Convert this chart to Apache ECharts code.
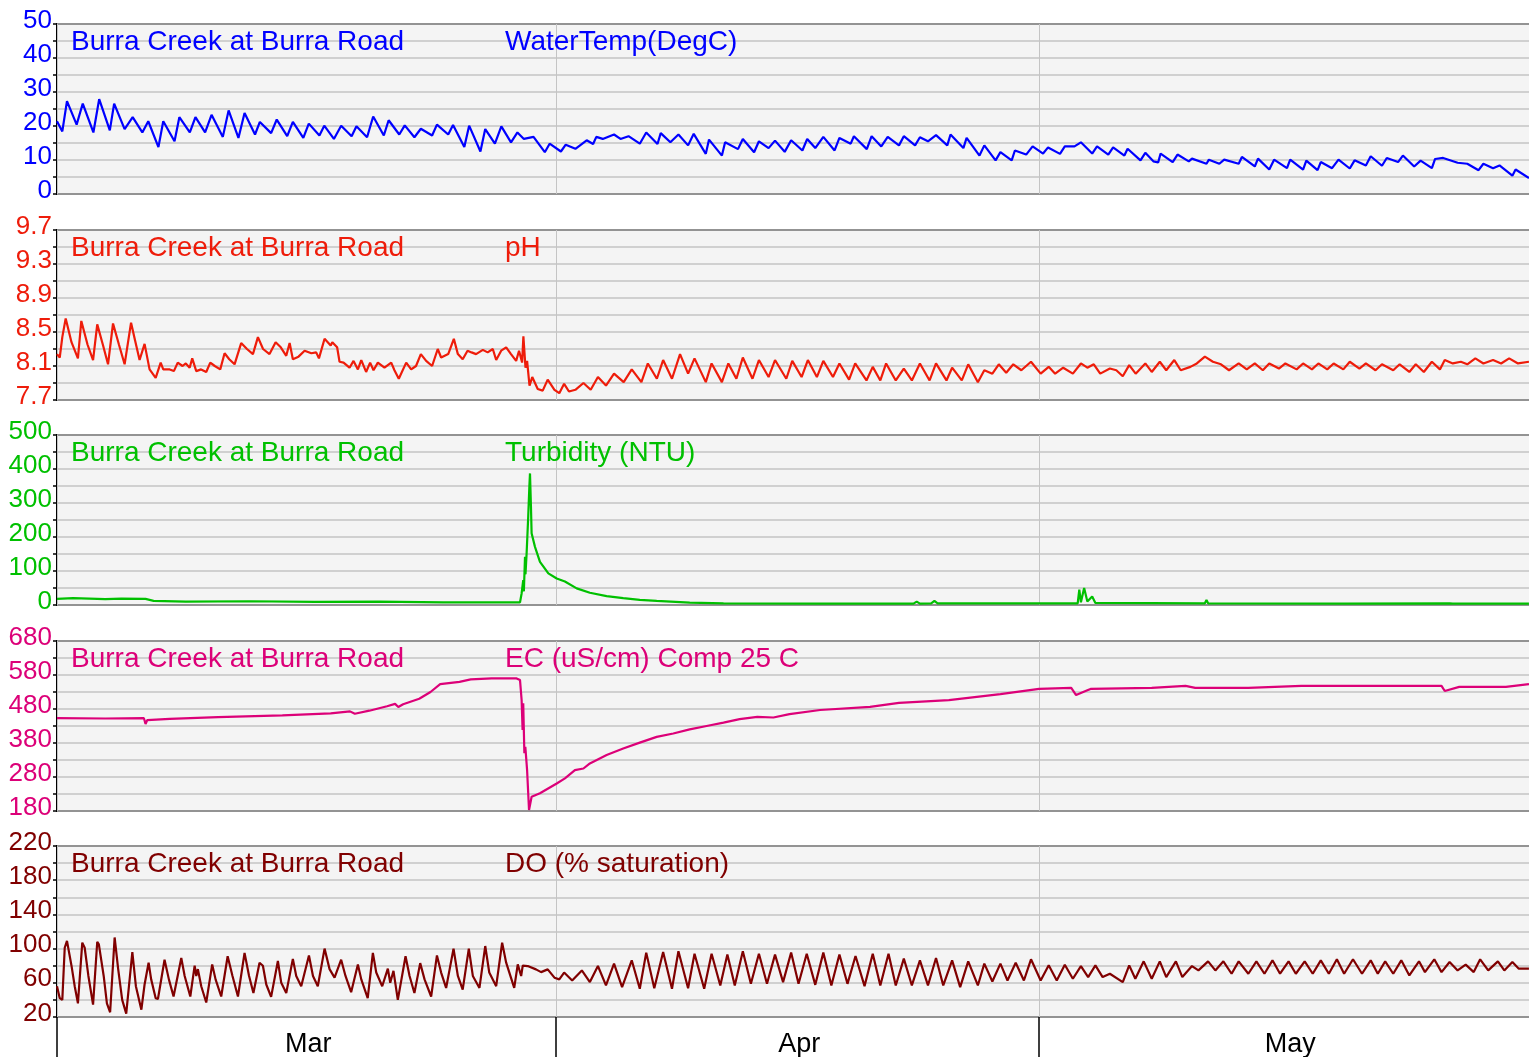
<!DOCTYPE html>
<html>
<head>
<meta charset="utf-8">
<title>Burra Creek at Burra Road</title>
<script src="https://cdn.jsdelivr.net/npm/echarts@6/dist/echarts.min.js"></script>
<style>
  html, body { margin: 0; padding: 0; background: #fff; }
  #chart { width: 1529px; height: 1057px; }
</style>
</head>
<body>
<div id="chart"></div>
<script>
// Time is measured in days from 1 March 00:00.
// The plot area runs a few pixels past the right edge of the canvas, so its
// right-hand border stays out of view; dayEnd is the time at that edge.
const siteName = 'Burra Creek at Burra Road';
const plotOverhang = 8;
const dayEnd = 91.93;
const monthStarts = [0, 31, 61];
const monthMids = [15.6, 46.1, 76.6];
const monthNames = ['Mar', 'Apr', 'May'];

// Water temperature (°C)
const waterTemp = [[0,21.4],[0.33,18.4],[0.62,27.3],[1.22,20.4],[1.6,26.6],[2.26,18.1],[2.62,27.9],[3.28,18.7],[3.55,26.6],[4.2,19.1],[4.7,22.6],[5.3,18.1],[5.67,21.4],[6.3,13.8],[6.6,21.4],[7.3,15.5],[7.6,22.6],[8.25,18.1],[8.6,22.6],[9.2,18.1],[9.6,23.3],[10.3,16.8],[10.66,24.6],[11.27,16.5],[11.65,23.8],[12.3,17.5],[12.6,21.2],[13.3,17.9],[13.65,21.9],[14.3,17.0],[14.65,21.2],[15.3,16.5],[15.64,20.7],[16.3,17.2],[16.6,20.1],[17.2,16.2],[17.65,20.1],[18.3,17.0],[18.6,19.9],[19.26,16.7],[19.64,22.8],[20.3,17.2],[20.6,21.7],[21.26,17.5],[21.6,20.2],[22.2,16.7],[22.6,19.2],[23.3,17.2],[23.6,20.4],[24.3,17.5],[24.6,20.3],[25.3,13.8],[25.6,20.1],[26.3,12.5],[26.6,19.1],[27.2,14.8],[27.6,19.9],[28.2,15.2],[28.6,18.1],[29.0,16.2],[29.6,16.8],[30.3,12.3],[30.6,14.8],[31.3,12.5],[31.6,14.5],[32.2,13.3],[32.9,15.8],[33.3,14.7],[33.5,16.8],[33.9,16.2],[34.6,17.5],[35.0,16.2],[35.5,17.0],[36.2,14.8],[36.6,18.1],[37.3,14.7],[37.5,17.9],[38.1,15.2],[38.6,17.5],[39.2,14.3],[39.55,17.7],[40.3,11.8],[40.5,16.0],[41.3,11.3],[41.5,15.2],[42.3,13.2],[42.6,16.2],[43.3,12.3],[43.6,15.5],[44.2,13.5],[44.6,15.7],[45.2,12.4],[45.6,15.8],[46.3,12.8],[46.6,16.2],[47.1,13.5],[47.6,16.8],[48.3,12.8],[48.6,16.5],[49.3,14.8],[49.5,17.0],[50.3,13.2],[50.6,17.0],[51.2,14.0],[51.6,16.8],[52.3,14.3],[52.6,17.0],[53.3,14.3],[53.6,16.7],[54.1,15.5],[54.6,17.3],[55.3,14.3],[55.5,17.5],[56.3,13.5],[56.5,16.5],[57.3,11.3],[57.6,14.3],[58.3,9.9],[58.6,12.3],[59.3,9.9],[59.5,12.8],[60.2,11.6],[60.6,14.0],[61.25,11.9],[61.56,13.7],[62.3,11.8],[62.6,14.0],[63.2,14.0],[63.6,15.2],[64.3,11.9],[64.6,14.0],[65.3,11.6],[65.6,13.7],[66.3,11.3],[66.5,13.3],[67.3,9.9],[67.6,12.1],[68.1,9.6],[68.4,9.3],[68.55,11.9],[69.3,9.4],[69.6,11.6],[70.3,9.6],[70.5,10.4],[71.4,8.9],[71.55,10.1],[72.2,8.9],[72.5,10.1],[73.4,8.9],[73.6,10.9],[74.4,8.1],[74.6,10.4],[75.3,7.2],[75.6,10.1],[76.4,7.6],[76.6,10.1],[77.4,7.2],[77.6,9.8],[78.3,7.0],[78.5,9.4],[79.2,7.6],[79.6,10.1],[80.3,7.5],[80.6,9.9],[81.3,8.4],[81.6,11.1],[82.3,8.3],[82.6,10.6],[83.3,9.4],[83.6,11.3],[84.3,8.1],[84.7,9.8],[85.4,7.6],[85.6,10.3],[86.1,10.6],[87.0,9.2],[87.6,8.9],[88.3,7.0],[88.6,8.9],[89.2,7.6],[89.6,8.4],[90.4,5.4],[90.6,7.2],[91.43,4.7]];

// pH
const phValues = [[0,8.24],[0.17,8.20],[0.33,8.44],[0.54,8.66],[0.9,8.38],[1.3,8.19],[1.51,8.63],[1.9,8.35],[2.24,8.17],[2.5,8.59],[2.85,8.35],[3.17,8.12],[3.48,8.60],[3.85,8.35],[4.2,8.12],[4.6,8.61],[4.85,8.40],[5.13,8.17],[5.44,8.36],[5.75,8.06],[6.13,7.96],[6.44,8.14],[6.6,8.06],[7.0,8.06],[7.26,8.04],[7.5,8.14],[7.8,8.10],[8.0,8.13],[8.24,8.08],[8.4,8.19],[8.65,8.04],[8.95,8.06],[9.27,8.03],[9.52,8.14],[9.8,8.10],[10.14,8.06],[10.41,8.25],[10.7,8.18],[11.03,8.12],[11.44,8.37],[11.8,8.30],[12.17,8.24],[12.48,8.44],[12.8,8.30],[13.2,8.24],[13.58,8.38],[13.9,8.32],[14.24,8.22],[14.45,8.37],[14.65,8.18],[15.0,8.21],[15.38,8.28],[15.8,8.25],[16.1,8.26],[16.27,8.19],[16.62,8.42],[17.0,8.34],[17.1,8.38],[17.4,8.32],[17.55,8.15],[17.8,8.14],[18.17,8.08],[18.42,8.16],[18.69,8.06],[18.9,8.17],[19.2,8.03],[19.45,8.14],[19.66,8.05],[19.93,8.14],[20.34,8.08],[20.76,8.14],[20.96,8.05],[21.23,7.95],[21.69,8.14],[22.0,8.06],[22.3,8.10],[22.6,8.24],[22.93,8.16],[23.3,8.10],[23.65,8.30],[23.86,8.20],[24.3,8.24],[24.65,8.42],[24.9,8.24],[25.2,8.18],[25.5,8.28],[25.75,8.26],[26.03,8.24],[26.45,8.29],[26.75,8.26],[27.07,8.30],[27.28,8.17],[27.59,8.28],[27.9,8.32],[28.2,8.24],[28.52,8.16],[28.7,8.28],[28.89,8.14],[28.97,8.45],[29.1,8.08],[29.2,8.16],[29.35,7.87],[29.52,7.97],[29.86,7.83],[30.17,7.81],[30.48,7.94],[30.9,7.82],[31.2,7.78],[31.5,7.89],[31.8,7.80],[32.2,7.82],[32.7,7.90],[33.15,7.82],[33.6,7.97],[34.1,7.87],[34.6,8.01],[35.2,7.91],[35.7,8.06],[36.3,7.91],[36.7,8.13],[37.26,7.95],[37.65,8.17],[38.2,7.95],[38.7,8.24],[39.2,8.01],[39.6,8.19],[40.3,7.91],[40.66,8.13],[41.3,7.91],[41.7,8.13],[42.2,7.95],[42.6,8.20],[43.2,7.95],[43.6,8.17],[44.2,7.97],[44.6,8.17],[45.3,7.95],[45.67,8.16],[46.25,7.97],[46.64,8.17],[47.2,7.97],[47.6,8.16],[48.2,7.97],[48.6,8.13],[49.2,7.94],[49.58,8.13],[50.28,7.93],[50.67,8.09],[51.14,7.93],[51.5,8.13],[52.1,7.93],[52.6,8.07],[53.1,7.93],[53.6,8.13],[54.2,7.93],[54.6,8.13],[55.25,7.93],[55.6,8.08],[56.2,7.93],[56.6,8.12],[57.2,7.91],[57.6,8.05],[58.1,8.01],[58.5,8.12],[58.96,8.02],[59.4,8.12],[59.9,8.05],[60.5,8.15],[61.1,8.01],[61.6,8.09],[62.0,8.01],[62.5,8.08],[63.1,8.01],[63.6,8.13],[64.0,8.08],[64.4,8.12],[64.8,8.01],[65.4,8.07],[65.8,8.05],[66.2,7.98],[66.6,8.11],[67.0,8.01],[67.6,8.13],[68.0,8.03],[68.5,8.15],[68.9,8.05],[69.4,8.17],[69.8,8.05],[70.4,8.09],[70.8,8.13],[71.3,8.21],[71.8,8.15],[72.3,8.12],[72.8,8.05],[73.4,8.13],[73.9,8.06],[74.4,8.13],[74.9,8.05],[75.3,8.13],[75.9,8.07],[76.3,8.13],[77.0,8.06],[77.4,8.13],[77.95,8.06],[78.35,8.13],[78.9,8.06],[79.3,8.13],[79.9,8.06],[80.3,8.15],[80.9,8.07],[81.3,8.13],[81.9,8.05],[82.3,8.12],[83.0,8.05],[83.4,8.12],[84.0,8.03],[84.4,8.12],[84.9,8.03],[85.4,8.15],[85.9,8.06],[86.2,8.17],[86.7,8.13],[87.2,8.15],[87.6,8.12],[88.1,8.19],[88.6,8.13],[89.2,8.17],[89.7,8.13],[90.2,8.19],[90.75,8.13],[91.43,8.15]];

// Turbidity (NTU)
const turbidity = [[0,18],[1,20],[2,19],[3,17],[4,19],[5.5,18],[6,12],[8,10],[12,11],[16,9],[20,10],[24,8],[28.76,8],[28.86,34],[28.96,73],[29.0,40],[29.07,142],[29.1,90],[29.17,152],[29.27,260],[29.34,348],[29.38,387],[29.44,289],[29.48,211],[29.69,171],[30.0,127],[30.52,93],[31.04,78],[31.55,69],[32.28,49],[33.1,36],[34.14,26],[35.17,20],[36.2,15],[37.25,12],[39.3,7],[41.4,5],[47.4,4],[53.2,4],[53.4,10],[53.6,4],[54.3,5],[54.5,12],[54.7,5],[63.4,5],[63.5,45],[63.6,8],[63.8,50],[64.0,10],[64.3,25],[64.5,6],[71.3,5],[71.4,15],[71.5,5],[80,4],[86.5,5],[86.6,9],[86.7,4],[91.43,4]];

// Electrical conductivity (uS/cm, compensated to 25 C)
const conductivity = [[0,453],[3,452],[5.4,453],[5.5,436],[5.6,447],[7,451],[10,456],[14,461],[17,467],[18.2,473],[18.5,466],[19.4,475],[20.5,488],[21.0,495],[21.2,486],[21.5,494],[22.5,510],[23.2,530],[23.8,553],[25.0,560],[25.7,567],[27,570],[28.55,570],[28.76,565],[28.86,506],[28.92,418],[28.96,497],[29.03,350],[29.09,369],[29.2,300],[29.32,183],[29.48,222],[30.0,232],[31.04,261],[31.55,276],[32.17,300],[32.7,305],[33.1,320],[34.14,345],[35.17,364],[36.2,381],[37.25,398],[38.28,408],[39.3,420],[40.35,430],[41.4,440],[42.4,450],[43.5,457],[44.5,455],[45.5,465],[47.4,477],[50.5,486],[52.3,498],[55.4,506],[58.6,524],[61.0,539],[63.0,542],[63.3,521],[64.0,535],[64.2,539],[68.0,542],[70.1,548],[70.7,542],[74,542],[77.3,548],[86.0,548],[86.2,533],[87.1,545],[90.0,545],[91.43,553]];

// Dissolved oxygen (% saturation)
const dissolvedOxygen = [[0,56],[0.17,42],[0.33,40],[0.48,101],[0.62,109],[0.9,80],[1.1,56],[1.3,36],[1.57,107],[1.72,101],[1.95,68],[2.24,34.5],[2.5,108],[2.6,105],[2.7,107],[2.9,68],[3.1,36],[3.3,25.5],[3.58,113],[3.8,76],[4.05,40],[4.3,24],[4.68,96],[4.9,56],[5.24,28.6],[5.44,58],[5.69,83.5],[5.85,64],[6.13,42],[6.27,41],[6.68,87],[6.95,64],[7.24,44],[7.72,89],[7.93,68],[8.28,44],[8.55,80],[8.65,68],[8.75,76],[8.96,56],[9.27,37],[9.64,81.5],[9.85,64],[10.2,44],[10.6,91],[10.9,68],[11.24,44],[11.65,95],[11.93,68],[12.2,48],[12.58,83.5],[12.79,80],[13.0,58],[13.3,43.5],[13.72,85.5],[13.93,60],[14.24,48],[14.65,88],[14.86,68],[15.17,56],[15.65,92],[15.9,68],[16.2,56],[16.62,100],[16.93,76],[17.24,66],[17.65,87],[17.92,68],[18.27,49],[18.69,81.5],[18.9,64],[19.3,42],[19.62,95],[19.83,72],[20.2,56],[20.55,76.5],[20.7,60],[20.9,74],[21.17,40],[21.65,91],[21.9,68],[22.2,48],[22.56,83],[22.83,64],[23.24,44],[23.6,92],[23.86,72],[24.17,54],[24.63,100],[24.9,68],[25.2,52],[25.58,100],[25.83,68],[26.24,54],[26.6,103],[26.85,72],[27.28,56],[27.65,107],[27.9,83.5],[28.4,54],[28.62,81.5],[28.83,68],[28.93,80],[29.24,79.6],[29.75,75.7],[30.07,72.5],[30.48,75.7],[30.9,66],[31.2,64],[31.5,72],[32.0,62.7],[32.6,74.5],[33.1,60.8],[33.6,79.6],[34.1,56.9],[34.6,82.4],[35.1,54.9],[35.7,86.3],[36.2,53],[36.6,95.3],[37.1,53.7],[37.65,96],[38.2,53],[38.6,96.9],[39.2,53.7],[39.6,94],[40.2,53],[40.66,94],[41.2,56.9],[41.64,93],[42.1,56.9],[42.6,96.9],[43.1,58.8],[43.6,94],[44.1,58.8],[44.6,93],[45.1,60.8],[45.6,95.3],[46.06,58.8],[46.57,94],[47.1,57.6],[47.6,95.3],[48.1,56.9],[48.6,93],[49.1,58.8],[49.6,91.4],[50.16,56.1],[50.67,94],[51.14,56.9],[51.65,94],[52.1,56.9],[52.6,88.2],[53.1,56.9],[53.6,86.3],[54.1,56.9],[54.6,89],[55.05,56.9],[55.6,86.3],[56.1,54.9],[56.6,85.1],[57.2,56.9],[57.6,82.4],[58.1,61.6],[58.6,82.4],[59.04,62.7],[59.55,83.5],[60.06,62.7],[60.5,87.5],[61.1,62.7],[61.6,80.4],[62.1,62.7],[62.6,81.2],[63.1,64.7],[63.6,79.6],[64.05,66.7],[64.5,80.4],[64.95,66.7],[65.4,70.6],[66.2,60.8],[66.6,80.4],[66.98,64.7],[67.5,85.1],[68.0,64.7],[68.5,85.1],[68.9,66.7],[69.5,85.1],[69.9,66.7],[70.5,79.6],[70.9,74.5],[71.5,85.1],[71.95,74.5],[72.45,85.1],[72.96,70.6],[73.4,85.1],[74.0,70.6],[74.5,85.1],[75.0,70.6],[75.5,86.3],[75.97,70.6],[76.5,85.1],[76.95,70.6],[77.5,85.1],[78.0,70.6],[78.5,86.3],[79.0,70.6],[79.5,87.5],[79.95,70.6],[80.5,87.5],[81.06,70.6],[81.6,86.3],[82.04,70.6],[82.5,85.1],[83.0,70.6],[83.5,86.3],[84.0,68.6],[84.6,85.1],[84.97,72.5],[85.55,87.5],[86.0,72.5],[86.5,84.3],[87.0,74.5],[87.5,81.2],[88.0,72.5],[88.4,87.5],[88.9,74.5],[89.5,85.1],[89.9,74.5],[90.4,84.3],[90.8,76.5],[91.43,76.5]];

// Axis ranges, grid-line values and labelled values for each panel
const paramNames = ['WaterTemp(DegC)', 'pH', 'Turbidity (NTU)', 'EC (uS/cm) Comp 25 C', 'DO (% saturation)'];
const paramColors = ['#0000ff', '#ee1c0a', '#00c000', '#dc0078', '#800000'];
const yMins = [0, 7.7, 0, 180, 20];
const yMaxs = [50, 9.7, 500, 680, 220];
const yGridValues = [
  [0, 5, 10, 15, 20, 25, 30, 35, 40, 45, 50],
  [7.7, 7.9, 8.1, 8.3, 8.5, 8.7, 8.9, 9.1, 9.3, 9.5, 9.7],
  [0, 50, 100, 150, 200, 250, 300, 350, 400, 450, 500],
  [180, 230, 280, 330, 380, 430, 480, 530, 580, 630, 680],
  [20, 40, 60, 80, 100, 120, 140, 160, 180, 200, 220]
];
const yLabelValues = [
  [0, 10, 20, 30, 40, 50],
  [7.7, 8.1, 8.5, 8.9, 9.3, 9.7],
  [0, 100, 200, 300, 400, 500],
  [180, 280, 380, 480, 580, 680],
  [20, 60, 100, 140, 180, 220]
];
const seriesData = [waterTemp, phValues, turbidity, conductivity, dissolvedOxygen];

// Layout of the stacked panels
const panelTops = [24, 230, 435, 641, 846];
const panelHeights = [170, 170, 170, 170, 171];
const FONT = '"Liberation Sans", Arial, Helvetica, sans-serif';
const last = seriesData.length - 1;

const option = {
  animation: false,
  backgroundColor: '#ffffff',
  title: [],
  grid: [],
  xAxis: [],
  yAxis: [],
  series: []
};

seriesData.forEach((data, i) => {
  const color = paramColors[i];
  option.grid.push({
    left: 57, right: -plotOverhang, top: panelTops[i], height: panelHeights[i],
    outerBoundsMode: 'none', containLabel: false,
    show: true, backgroundColor: '#f4f4f4', borderColor: '#000', borderWidth: 2
  });
  option.title.push({
    text: siteName, left: 71, top: panelTops[i] + 4, padding: 0,
    textStyle: { color, fontSize: 28, fontWeight: 'normal', fontFamily: FONT }
  });
  option.title.push({
    text: paramNames[i], left: 505, top: panelTops[i] + 4, padding: 0,
    textStyle: { color, fontSize: 28, fontWeight: 'normal', fontFamily: FONT }
  });
  option.xAxis.push({
    type: 'value', gridIndex: i, min: 0, max: dayEnd,
    axisLine: { show: false },
    axisTick: {
      show: i === last, customValues: monthStarts, length: 40, inside: false,
      lineStyle: { color: '#000', width: 1.5 }
    },
    splitLine: { show: true, lineStyle: { color: '#c4c4c4', width: 1 } },
    axisLabel: {
      show: i === last, customValues: monthMids, margin: 14,
      color: '#000', fontSize: 27, fontFamily: FONT,
      formatter: v => monthNames[monthMids.indexOf(v)]
    }
  });
  option.yAxis.push({
    type: 'value', gridIndex: i, min: yMins[i], max: yMaxs[i],
    axisLine: { show: false },
    axisTick: {
      show: true, customValues: yGridValues[i], length: 4, inside: false,
      lineStyle: { color: '#000', width: 1.5 }
    },
    splitLine: { show: true, lineStyle: { color: '#c4c4c4', width: 1.5 } },
    axisLabel: {
      customValues: yLabelValues[i], margin: 5, color, fontSize: 26, fontFamily: FONT,
      verticalAlign: 'bottom', lineHeight: 7
    }
  });
  option.series.push({
    type: 'line', xAxisIndex: i, yAxisIndex: i, data,
    showSymbol: false, symbol: 'none', clip: true, z: 5,
    lineStyle: { color, width: 2.2 }
  });
});

const chart = echarts.init(document.getElementById('chart'), null, { renderer: 'canvas' });
chart.setOption(option);
</script>
</body>
</html>
